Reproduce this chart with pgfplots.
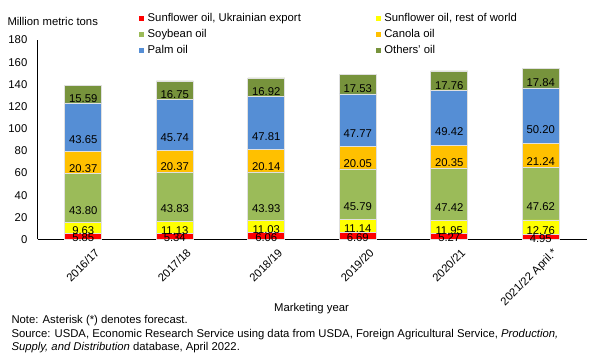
\documentclass[border=0pt]{standalone}
\usepackage{pgfplots}
\pgfplotsset{compat=1.18}
\usepackage{fontspec}
\setmainfont{Liberation Sans}
\definecolor{cRed}{HTML}{FF0000}
\definecolor{cYel}{HTML}{FFFF00}
\definecolor{cSoy}{HTML}{9BBB59}
\definecolor{cCan}{HTML}{FFC000}
\definecolor{cPalm}{HTML}{558ED5}
\definecolor{cOth}{HTML}{77933C}
\newcommand{\fs}{\fontsize{11.3}{13.5}\selectfont}
\pgfplotsset{
  centerlabel/.code={%
    \pgfkeys{/pgf/fpu=true,/pgf/fpu/output format=fixed}%
    \pgfmathparse{-0.25*\pgfplotspointmeta*199.5/180}%
    \xdef\lblshift{\pgfmathresult}%
    \pgfkeys{/pgf/fpu=false}%
  },
}
\begin{document}
\begin{tikzpicture}
\useasboundingbox (0pt,0pt) rectangle (599pt,361pt);
\begin{axis}[
  at={(37.5pt,121.5pt)}, anchor=south west,
  width=549pt, height=199.5pt, scale only axis,
  xmin=-0.5, xmax=5.5, ymin=0, ymax=180,
  ybar stacked, bar width=37pt,
  axis x line*=bottom, axis y line*=left,
  axis line style={-, black, line width=0.9pt},
  major tick length=0pt,
  xtick={0,1,2,3,4,5},
  xticklabels={2016/17,2017/18,2018/19,2019/20,2020/21,2021/22 April.*},
  ytick={0,20,...,180},
  /pgf/number format/assume math mode=true,
  tick label style={font=\fs},
  yticklabel style={inner sep=0pt, anchor=east, xshift=-10pt},
  xticklabel style={rotate=45, anchor=north east, inner sep=0pt, xshift=2pt, yshift=-13.5pt},
  nodes near coords={\pgfmathprintnumber[fixed,fixed zerofill,precision=2,assume math mode=true]{\pgfplotspointmeta}},
  every node near coord/.append style={font=\fs, black, anchor=center, inner sep=0pt, /pgfplots/centerlabel, yshift=\lblshift pt},
  legend columns=2,
  legend cell align=left,
  legend style={at={(axis description cs:0.1854,1.1326)}, anchor=north west, draw=none, fill=none, inner sep=0pt, outer sep=0pt,
    font=\fs,
    nodes={inner sep=0pt, text height=8.2pt, text depth=2.3pt},
    row sep=5.2pt,
    /tikz/every odd column/.append style={column sep=3.4pt},
    /tikz/every even column/.append style={column sep=75pt}},
  legend image code/.code={\fill[#1,draw=none] (0pt,-2.5pt) rectangle (5pt,2.5pt);},
]
\addplot[fill=cRed, draw=black!12, line width=0.6pt] coordinates {(0,5.85) (1,5.34) (2,6.06) (3,6.69) (4,5.27) (5,4.95)};
\addlegendentry{Sunflower oil, Ukrainian export}
\addplot[fill=cYel, draw=black!12, line width=0.6pt] coordinates {(0,9.63) (1,11.13) (2,11.03) (3,11.14) (4,11.95) (5,12.76)};
\addlegendentry{Sunflower oil, rest of world}
\addplot[fill=cSoy, draw=black!12, line width=0.6pt] coordinates {(0,43.80) (1,43.83) (2,43.93) (3,45.79) (4,47.42) (5,47.62)};
\addlegendentry{Soybean oil}
\addplot[fill=cCan, draw=black!12, line width=0.6pt] coordinates {(0,20.37) (1,20.37) (2,20.14) (3,20.05) (4,20.35) (5,21.24)};
\addlegendentry{Canola oil}
\addplot[fill=cPalm, draw=black!12, line width=0.6pt] coordinates {(0,43.65) (1,45.74) (2,47.81) (3,47.77) (4,49.42) (5,50.20)};
\addlegendentry{Palm oil}
\addplot[fill=cOth, draw=black!12, line width=0.6pt] coordinates {(0,15.59) (1,16.75) (2,16.92) (3,17.53) (4,17.76) (5,17.84)};
\addlegendentry{Others' oil}
\end{axis}
\begin{scope}[every node/.style={inner sep=0pt, font=\fs}]
\node[anchor=base west] at (7.3pt,335.3pt) {Million metric tons};
\node[anchor=base] at (311.5pt,49.3pt) {Marketing year};
\node[anchor=base west] at (11.3pt,37.7pt) {Note: Asterisk (*) denotes forecast.};
\node[anchor=base west] at (11.3pt,23.7pt) {Source: USDA, Economic Research Service using data from USDA, Foreign Agricultural Service, \textit{Production,}};
\node[anchor=base west] at (11.3pt,10.3pt) {\textit{Supply, and Distribution} database, April 2022.};
\end{scope}
\end{tikzpicture}
\end{document}
